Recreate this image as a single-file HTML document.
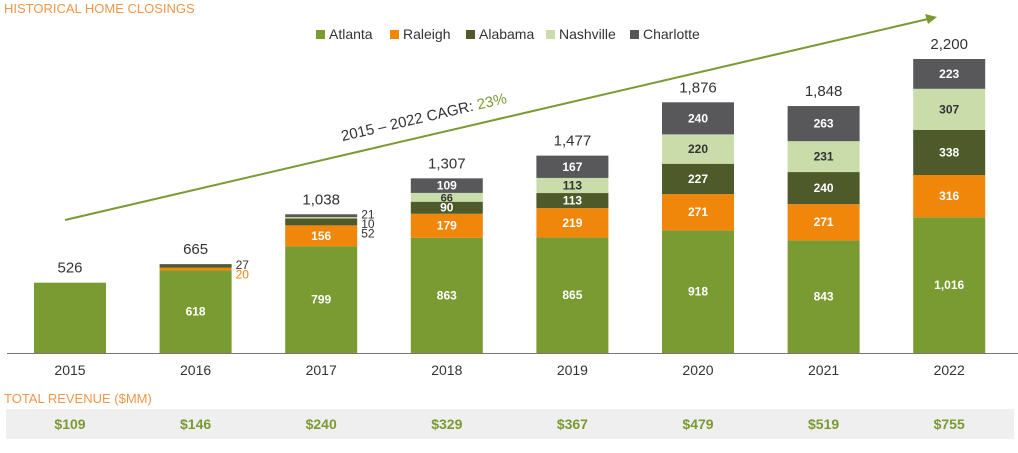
<!DOCTYPE html>
<html><head><meta charset="utf-8"><style>
body{margin:0;width:1018px;height:448px;background:#fff;overflow:hidden;font-family:"Liberation Sans",sans-serif}
svg text{font-family:"Liberation Sans",sans-serif}
</style></head><body>
<svg id="c" width="1018" height="448">
<rect x="6" y="409" width="1008" height="30" fill="#efefef"/>
<text x="4" y="13" font-size="13" fill="#f0964a">HISTORICAL HOME CLOSINGS</text>
<text x="4" y="403" font-size="13" fill="#f0964a">TOTAL REVENUE ($MM)</text>
<line x1="7" y1="353.5" x2="1018" y2="353.5" stroke="#777" stroke-width="1"/>
<line x1="65" y1="220" x2="928" y2="19" stroke="#7a9a32" stroke-width="2"/>
<polygon points="937,17 925,14 928,24" fill="#7a9a32"/>
<text transform="translate(425,122) rotate(-13.1)" font-size="15" fill="#333" text-anchor="middle">2015 – 2022 CAGR: <tspan fill="#7a9a32">23%</tspan></text>
<g id="legend"></g><g id="bars"></g>
</svg>
<script>
const years=["2015","2016","2017","2018","2019","2020","2021","2022"];
const series=["Atlanta","Raleigh","Alabama","Nashville","Charlotte"];
const atlanta=[526,618,799,863,865,918,843,1016];
const raleigh=[0,20,156,179,219,271,271,316];
const alabama=[0,27,52,90,113,227,240,338];
const nashville=[0,0,10,66,113,220,231,307];
const charlotte=[0,0,21,109,167,240,263,223];
const totals=["526","665","1,038","1,307","1,477","1,876","1,848","2,200"];
const revenue=["$109","$146","$240","$329","$367","$479","$519","$755"];
const colors=["#7a9a32","#f0860a","#4e5a2a","#c9dcaa","#58585a"];
const textCol=["#fff","#fff","#fff","#333","#fff"];
const outCol=["#333","#f0860a","#333","#333","#333"];
const vals=[atlanta,raleigh,alabama,nashville,charlotte];
const NS="http://www.w3.org/2000/svg";
const base=353,scale=294/2200,x0=70,step=125.6,bw=72;
const xs=i=>x0+i*step, ys=v=>base-v*scale;
function mk(tag,attrs,parent,txt){const e=document.createElementNS(NS,tag);for(const k in attrs)e.setAttribute(k,attrs[k]);if(txt!=null)e.textContent=txt;parent.appendChild(e);return e;}
const g=document.getElementById('bars');
years.forEach((y,i)=>{
  let cum=0;const cx=xs(i);let outs=[];
  vals.forEach((arr,s)=>{
    const v=arr[i];if(!v)return;
    const y1=ys(cum+v),h=v*scale;
    const r=mk('rect',{x:cx-bw/2,y:y1,width:bw,height:h,fill:colors[s]},g);
    
    
    if(!(i===0)){
      if(v>=60){
        const t=mk('text',{x:cx,y:y1+h/2+4,'font-size':v<80?11:12,'font-weight':'bold','text-anchor':'middle',fill:textCol[s]},g,String(v).replace(/\B(?=(\d{3})+(?!\d))/g,','));
        
        
      } else outs.push([s,v,y1+h/2]);
    }
    cum+=v;
  });
  // outside labels stacked from top
  outs.reverse().forEach((o,k)=>{
    const top=ys(cum);
    const t=mk('text',{x:cx+bw/2+4,y:top+4+k*9.5+(outs.length===2?1:0),'font-size':12,fill:outCol[o[0]]},g,String(o[1]));
    
    
  });
  const tt=mk('text',{x:cx,y:ys(cum)-10,'font-size':15,'text-anchor':'middle',fill:'#333'},g,totals[i]);
  
  
  const yl=mk('text',{x:cx,y:375,'font-size':14,'text-anchor':'middle',fill:'#333'},g,y);
  
  
  const rv=mk('text',{x:cx,y:429,'font-size':14,'font-weight':'bold','text-anchor':'middle',fill:'#7a9a32'},g,revenue[i]);
  
  
});
const lg=document.getElementById('legend');
const lx=[316,390,466,546,630];
series.forEach((s,i)=>{
  const r=mk('rect',{x:lx[i],y:30,width:9,height:9,fill:colors[i]},lg);
  
  
  const t=mk('text',{x:lx[i]+13,y:39,'font-size':14,fill:'#333'},lg,s);
  
  
});
</script>
</body></html>
